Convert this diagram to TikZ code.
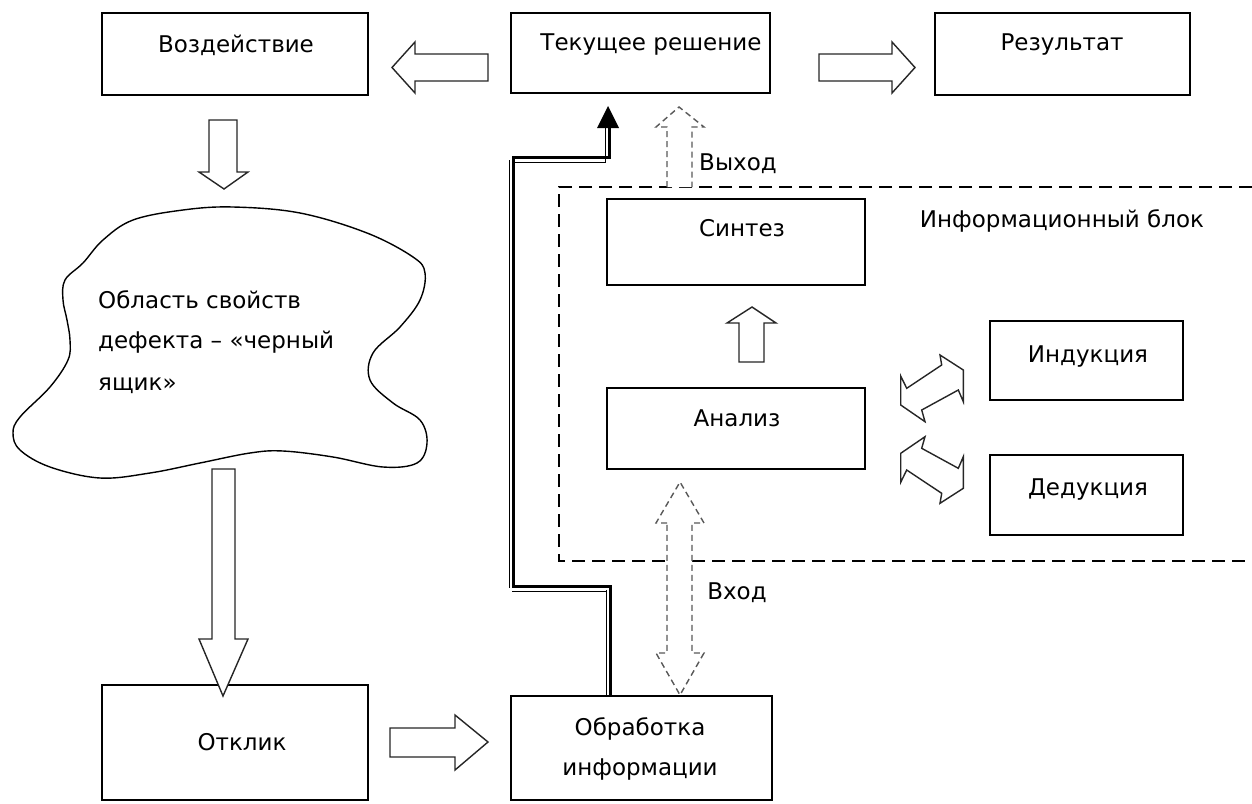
\documentclass[tikz,border=0pt]{standalone}
\usepackage{fontspec}
\setmainfont{DejaVu Sans}
\begin{document}
\begin{tikzpicture}[x=1pt,y=-1pt,
  box/.style={draw, line width=1.3pt, inner sep=0pt, outer sep=0pt},
  txt/.style={anchor=base, inner sep=0pt, font=\fontsize{23}{27}\selectfont},
  ltxt/.style={anchor=base west, inner sep=0pt, font=\fontsize{23}{27}\selectfont},
  barrow/.style={draw=black!85, line width=1.4pt, line join=miter, fill=white},
  darrow/.style={draw=black!65, line width=1.4pt, dash pattern=on 6pt off 4pt, fill=white},
  dbox/.style={draw, line width=1.5pt, dash pattern=on 13pt off 7pt},
  thickline/.style={line width=3pt, line join=miter},
  thinline/.style={line width=1pt},
]
\useasboundingbox (0,0) rectangle (1252,803);

% boxes
\node[box, minimum width=266pt, minimum height=82pt] (vozd) at (235,54) {};
\node[box, minimum width=259pt, minimum height=80pt] (tek) at (640.5,53) {};
\node[box, minimum width=255pt, minimum height=82pt] (rez) at (1062.5,54) {};
\node[box, minimum width=258pt, minimum height=86pt] (sin) at (736,242) {};
\node[box, minimum width=258pt, minimum height=81pt] (ana) at (736,428.5) {};
\node[box, minimum width=193pt, minimum height=79pt] (ind) at (1086.5,360.5) {};
\node[box, minimum width=193pt, minimum height=80pt] (ded) at (1086.5,495) {};
\node[box, minimum width=261pt, minimum height=104pt] (obr) at (641.5,748) {};
\node[box, minimum width=266pt, minimum height=115pt] (otk) at (235,742.5) {};

% labels
\node[txt] (tvozd) at (236,52) {Воздействие};
\node[txt] (ttek) at (651,50) {Текущее решение};
\node[txt] (trez) at (1062,50) {Результат};
\node[txt] (tsin) at (742,236) {Синтез};
\node[txt] (tana) at (737,426) {Анализ};
\node[txt] (tind) at (1088,362) {Индукция};
\node[txt] (tded) at (1088,495) {Дедукция};
\node[txt] (tobr1) at (640,735) {Обработка};
\node[txt] (tobr2) at (640,775) {информации};
\node[txt] (totk) at (242,750) {Отклик};
\node[txt] (tvyh) at (738,170) {Выход};
\node[txt] (tvh) at (737,599) {Вход};
\node[txt] (tinf) at (1062,227) {Информационный блок};

% cloud
\draw[line width=1.4pt] plot[smooth cycle, tension=0.6] coordinates {
 (65,280) (63,300) (67,320) (70,340) (68,360) (50,387) (20,417) (13,433)
 (20,450) (50,467) (100,478) (150,473) (200,463) (250,453) (283,451)
 (333,457) (383,467) (417,463) (427,443) (420,420) (393,403) (370,380)
 (373,353) (400,327) (420,300) (425,273) (413,257) (367,233) (300,213)
 (233,207) (183,210) (133,220) (103,240) (83,263)};
\node[ltxt] (cl1) at (98,308) {Область свойств};
\node[ltxt] (cl2) at (98,348) {дефекта – «черный};
\node[ltxt] (cl3) at (98,390) {ящик»};

% dashed information block
\draw[dbox] (1252,187) -- (559,187) -- (559,561) -- (1252,561);

% block arrows
\draw[barrow] (488,54) -- (415,54) -- (415,42) -- (392,67.5) -- (415,93) -- (415,81) -- (488,81) -- cycle;
\draw[barrow] (819,54) -- (892,54) -- (892,42) -- (915,67.5) -- (892,93) -- (892,81) -- (819,81) -- cycle;
\draw[barrow] (209,120) -- (237,120) -- (237,172) -- (248,172) -- (224,189) -- (199,172) -- (209,172) -- cycle;
\draw[barrow] (212,469) -- (235,469) -- (235,639) -- (248,639) -- (223,696) -- (199,639) -- (212,639) -- cycle;
\draw[barrow] (390,728) -- (455,728) -- (455,715) -- (488,742) -- (455,770) -- (455,757) -- (390,757) -- cycle;
\draw[barrow] (739,362) -- (739,323) -- (727,323) -- (752,307) -- (776,323) -- (764,323) -- (764,362) -- cycle;

% double arrows analysis <-> induction / deduction
\draw[barrow] (900.7,376) -- (906.7,388.3) -- (941.7,365) -- (940,355) -- (963.3,370) -- (963.3,401.7) -- (958.3,390) -- (921.7,410) -- (925,421.7) -- (900.7,405) -- cycle;
\draw[barrow] (900.7,482.3) -- (906.7,470) -- (941.7,493.3) -- (940,503.3) -- (963.3,488.3) -- (963.3,456.7) -- (958.3,468.3) -- (921.7,448.3) -- (925,436.7) -- (900.7,453.3) -- cycle;

% dashed arrows
\draw[darrow] (667,187) -- (667,127) -- (656,127) -- (679,107) -- (704,127) -- (692,127) -- (692,187);
\draw[darrow] (667,523) -- (656,523) -- (680,482) -- (704,523) -- (692,523) -- (692,653) -- (704,653) -- (680,695) -- (656,653) -- (667,653) -- cycle;

% double-line connector from processing to current solution
\coordinate (c0) at (610,696);
\coordinate (c1) at (610,586);
\coordinate (c2) at (513,586);
\coordinate (c3) at (513,157);
\coordinate (c4) at (609,157);
\coordinate (c5) at (609,128);
\draw[thickline] (c0) -- (c1) -- (c2) -- (c3) -- (c4) -- (c5);
\draw[thinline] (606,696) -- (606,590);
\draw[thinline] (512,591) -- (607,591);
\draw[thinline] (509,160) -- (509,588);
\draw[thinline] (514,162) -- (606,162);
\draw[thinline] (605.5,162) -- (605.5,128);
\fill (597,128) -- (608,106) -- (619,128) -- cycle;
\end{tikzpicture}
\end{document}
